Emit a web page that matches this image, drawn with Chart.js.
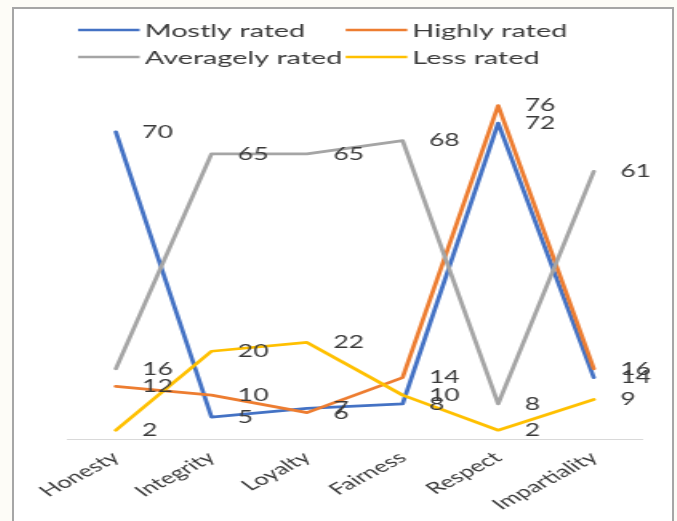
<!DOCTYPE html>
<html>
<head>
<meta charset="utf-8">
<script src="https://cdn.jsdelivr.net/npm/chart.js@4/dist/chart.umd.min.js"></script>
<style>
  html, body { margin: 0; padding: 0; width: 677px; height: 521px; overflow: hidden; background: #fdfcf7; }
  #frame { position: absolute; left: 12px; top: 7px; width: 658px; height: 512px;
           border: 2px solid #a6a6a6; border-bottom: none; background: #ffffff; }
  #chart { display: block; }
</style>
</head>
<body>
<div id="frame">
  <!-- drawn on a narrower canvas and widened by CSS, giving the chart its broad lettering -->
  <canvas id="chart" width="411" height="512" style="width:658px;height:512px"></canvas>
</div>
<script>
// Ratings per value
const categories = ['Honesty', 'Integrity', 'Loyalty', 'Fairness', 'Respect', 'Impartiality'];
const seriesNames = ['Mostly rated', 'Highly rated', 'Averagely rated', 'Less rated'];
const mostlyRated = [70, 5, 7, 8, 72, 14];
const highlyRated = [12, 10, 6, 14, 76, 16];
const averagelyRated = [16, 65, 65, 68, 8, 61];
const lessRated = [2, 20, 22, 10, 2, 9];
const yRange = [0, 80];

const seriesColors = ['#4472C4', '#ED7D31', '#A5A5A5', '#FFC000'];
const textColor = '#3a3a3a';
const fontFamily = 'Lato, "Open Sans", sans-serif';

// Value labels to the right of each point
const valueLabels = {
  id: 'valueLabels',
  afterDatasetsDraw(chart) {
    const ctx = chart.ctx;
    ctx.save();
    ctx.font = `16.5px ${fontFamily}`;
    ctx.fillStyle = textColor;
    ctx.textAlign = 'left';
    ctx.textBaseline = 'middle';
    chart.data.datasets.forEach((ds, i) => {
      chart.getDatasetMeta(i).data.forEach((pt, j) => {
        ctx.fillText(String(ds.data[j]), pt.x + 16.5, pt.y + 0.5);
      });
    });
    ctx.restore();
  }
};

// Two-column legend across the top
const gridLegend = {
  id: 'gridLegend',
  afterDraw(chart) {
    const ctx = chart.ctx;
    const ds = chart.data.datasets;
    ctx.save();
    ctx.font = `18px ${fontFamily}`;
    ctx.textAlign = 'left';
    ctx.textBaseline = 'middle';
    const lineLen = 38.5, gap = 3.2;
    const col1 = 40;
    const w1 = Math.max(ctx.measureText(ds[0].label).width, ctx.measureText(ds[2].label).width);
    const col2 = col1 + lineLen + gap + w1 + 2;
    const rows = [21, 48];
    [[0, col1, rows[0]], [1, col2, rows[0]], [2, col1, rows[1]], [3, col2, rows[1]]].forEach(([i, x, y]) => {
      ctx.strokeStyle = ds[i].borderColor;
      ctx.lineWidth = 2.5;
      ctx.beginPath();
      ctx.moveTo(x, y);
      ctx.lineTo(x + lineLen, y);
      ctx.stroke();
      ctx.fillStyle = textColor;
      ctx.fillText(ds[i].label, x + lineLen + gap, y + 1);
    });
    ctx.restore();
  }
};

const seriesData = [mostlyRated, highlyRated, averagelyRated, lessRated];

new Chart(document.getElementById('chart'), {
  type: 'line',
  data: {
    labels: categories,
    datasets: seriesData.map((d, i) => ({
      label: seriesNames[i],
      data: d,
      borderColor: seriesColors[i],
      backgroundColor: seriesColors[i],
      order: seriesData.length - i
    }))
  },
  options: {
    responsive: false,
    animation: false,
    devicePixelRatio: 1,
    layout: { padding: { left: 33.75, right: 19, top: 79, bottom: 0 } },
    elements: {
      line: { borderWidth: 2.75, tension: 0, fill: false, borderCapStyle: 'round', borderJoinStyle: 'round' },
      point: { radius: 0, hoverRadius: 0 }
    },
    plugins: { legend: { display: false }, tooltip: { enabled: false } },
    scales: {
      x: {
        offset: true,
        grid: { display: false, drawTicks: false },
        border: { display: true, color: '#d9d9d9', width: 1 },
        ticks: {
          autoSkip: false, minRotation: 40, maxRotation: 40, padding: 9,
          color: textColor, font: { family: fontFamily, size: 16 }
        },
        afterFit(scale) { scale.paddingLeft = 0; scale.paddingRight = 0; scale.height = 82; }
      },
      y: { display: false, min: yRange[0], max: yRange[1] }
    }
  },
  plugins: [valueLabels, gridLegend]
});
</script>
</body>
</html>
